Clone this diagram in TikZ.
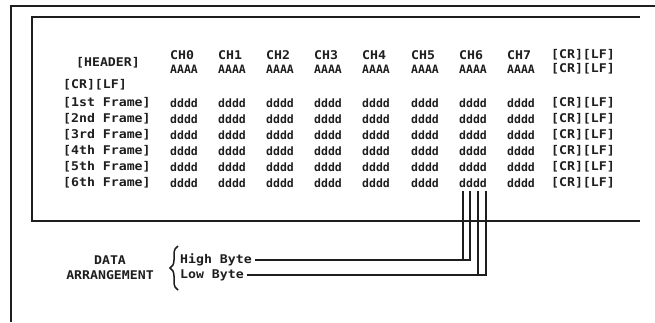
\documentclass[tikz,border=0pt]{standalone}
\usepackage{fontspec}
\usetikzlibrary{decorations.pathreplacing}
\newfontfamily\labfont{DejaVu Sans Mono}[FakeStretch=1.1]
\newfontfamily\datfont{DejaVu Sans Mono}
\definecolor{ink}{HTML}{1E1E1E}
\tikzset{
  lab/.style={anchor=west,inner sep=0pt,text=ink,font=\labfont\bfseries\fontsize{12}{12}\selectfont},
  dat/.style={anchor=west,inner sep=0pt,text=ink,font=\datfont\bfseries\fontsize{11.5}{11.5}\selectfont},
  framebold/.style={draw=ink,line width=2.4pt},
  wire/.style={draw=ink,line width=1.3pt},
}
\begin{document}
\begin{tikzpicture}[x=1pt,y=-1pt]
\useasboundingbox[fill=white] (0,0) rectangle (655,322);
% frames
\draw[framebold] (11,322) -- (11,6) -- (655,6);
\draw[framebold] (640,17) -- (32,17) -- (32,221) -- (640,221);
% header
\node[lab] (hdr) at (76,63) {[HEADER]};
\node[lab] (crlf0) at (63,85) {[CR][LF]};
\foreach \c [count=\i from 0] in {170,218,266,314,362,411,459,507} {
  \node[lab] (ch\i) at (\c,55) {CH\i};
  \node[dat] (a\i) at (\c,69) {AAAA};
}
\node[lab] (crlfA) at (551,55) {[CR][LF]};
\node[lab] (crlfB) at (551,69) {[CR][LF]};
% frames rows
\foreach \r/\t [count=\k] in {103/1st,119/2nd,135/3rd,151/4th,167/5th,183/6th} {
  \node[lab] (fr\k) at (63,\r) {[\t{} Frame]};
  \foreach \c [count=\j] in {170,218,266,314,362,411,459,507} {
    \node[dat] (d\k-\j) at (\c,\r) {dddd};
  }
  \node[lab] (crlf\k) at (551,\r) {[CR][LF]};
}
% data arrangement
\node[lab,anchor=center] (data) at (110,260) {DATA};
\node[lab,anchor=center] (arr) at (110,275) {ARRANGEMENT};
\draw[draw=ink,line width=1.5pt,decorate,decoration={brace,amplitude=8pt,aspect=0.5}] (178,290) -- (178,246);
\node[lab] (hb) at (180,260) {High Byte};
\node[lab] (lb) at (180,275) {Low Byte};
\coordinate (v1) at (463,191);
\coordinate (v2) at (470,191);
\coordinate (v3) at (478,191);
\coordinate (v4) at (486,191);
\draw[wire] ([xshift=3pt]hb.east) -- (v2 |- hb.east) -- (v2);
\draw[wire] (v1 |- hb.east) -- (v1);
\draw[wire] ([xshift=3pt]lb.east) -- (v4 |- lb.east) -- (v4);
\draw[wire] (v3 |- lb.east) -- (v3);
\end{tikzpicture}
\end{document}
